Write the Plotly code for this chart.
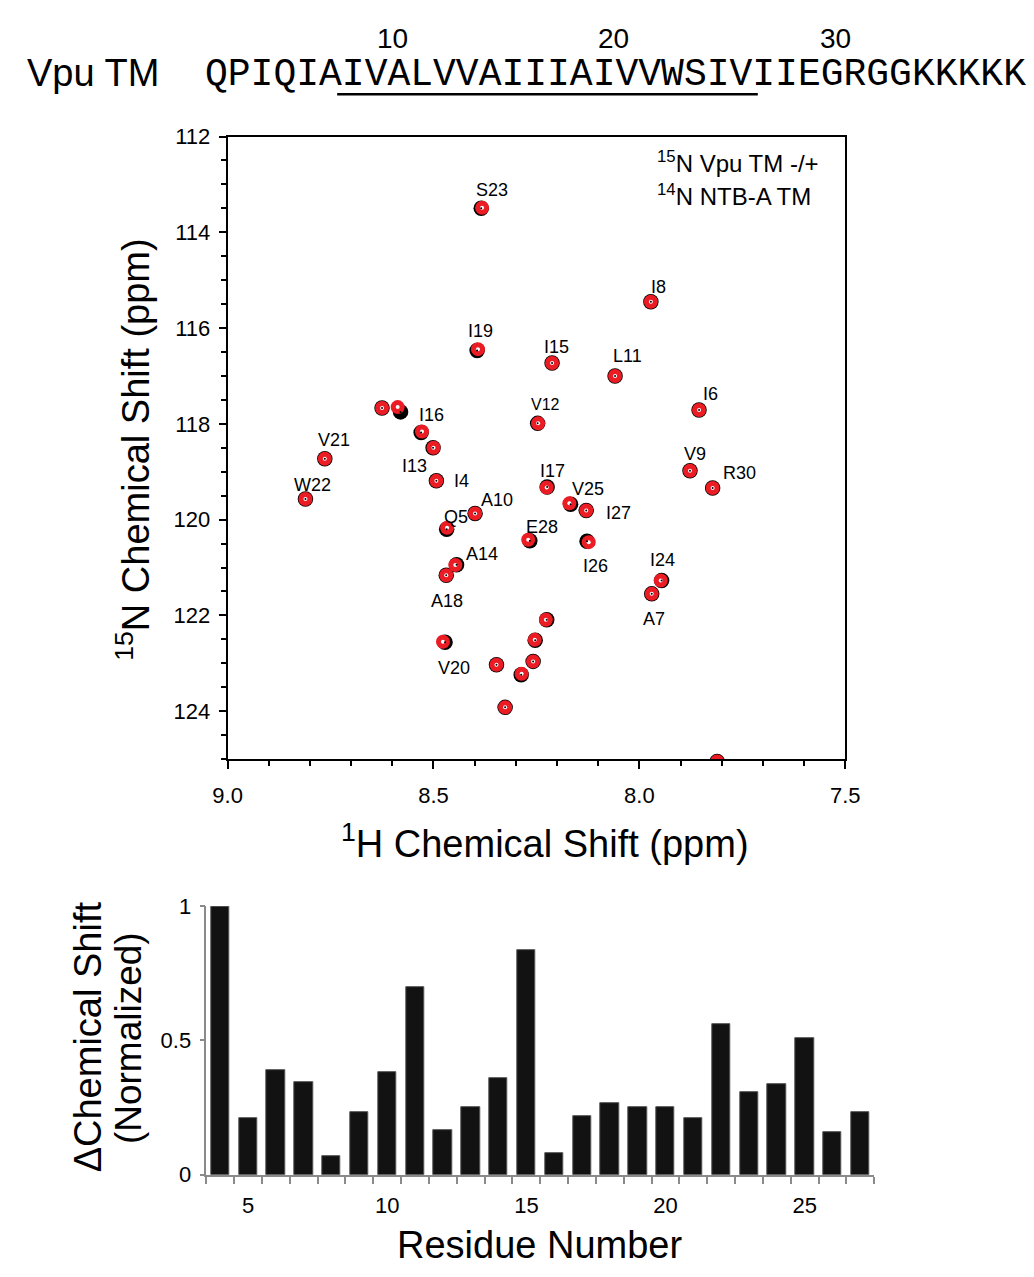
import plotly.graph_objects as go

# ---------------- data ----------------
SEQ_NAME = "Vpu TM"
SEQUENCE = "QPIQIAIVALVVAIIIAIVVWSIVIIEGRGGKKKKK"
SEQ_FIRST_RESIDUE = 2
SEQ_NUMBERS = [10, 20, 30]
TM_FIRST, TM_LAST = 8, 26  # underlined stretch

PEAK_LABELS = ["S23", "I8", "I19", "I15", "L11", "I6", "", "", "V12", "I16",
               "I13", "V21", "V9", "I4", "I17", "R30", "W22", "V25", "I27", "A10",
               "Q5", "E28", "I26", "A14", "A18", "I24", "A7", "", "", "V20",
               "", "", "", "", ""]
# 1H / 15N shifts with NTB-A TM (red)
H_BOUND = [8.382, 7.972, 8.392, 8.212, 8.059, 7.855, 8.625, 8.587, 8.246, 8.528,
           8.500, 8.764, 7.877, 8.493, 8.225, 7.822, 8.811, 8.170, 8.129, 8.399,
           8.467, 8.270, 8.123, 8.447, 8.469, 7.948, 7.970, 8.227, 8.254, 8.477,
           8.258, 8.347, 8.286, 8.326, 7.811]
N_BOUND = [113.49, 115.45, 116.44, 116.73, 117.00, 117.71, 117.67, 117.65, 117.99, 118.16,
           118.50, 118.73, 118.98, 119.19, 119.33, 119.34, 119.57, 119.66, 119.81, 119.87,
           120.17, 120.42, 120.47, 120.95, 121.16, 121.27, 121.55, 122.09, 122.51, 122.55,
           122.96, 123.03, 123.22, 123.92, 125.05]
# 1H / 15N shifts without NTB-A TM (black)
H_FREE = [8.384, 7.972, 8.394, 8.212, 8.059, 7.855, 8.625, 8.580, 8.247, 8.530,
          8.501, 8.764, 7.877, 8.493, 8.224, 7.822, 8.811, 8.167, 8.129, 8.399,
          8.468, 8.266, 8.127, 8.444, 8.469, 7.946, 7.970, 8.225, 8.253, 8.472,
          8.258, 8.347, 8.287, 8.326, 7.811]
N_FREE = [113.50, 115.45, 116.47, 116.73, 117.00, 117.71, 117.67, 117.75, 117.99, 118.18,
          118.50, 118.73, 118.98, 119.19, 119.32, 119.34, 119.57, 119.68, 119.81, 119.87,
          120.20, 120.44, 120.45, 120.94, 121.16, 121.27, 121.55, 122.09, 122.52, 122.56,
          122.96, 123.03, 123.24, 123.92, 125.05]

RESIDUES = list(range(4, 28))
DELTA_NORM = [1.00, 0.21, 0.388, 0.345, 0.068, 0.232, 0.381, 0.698, 0.168, 0.253,
              0.360, 0.835, 0.081, 0.217, 0.268, 0.253, 0.253, 0.21, 0.561, 0.309,
              0.339, 0.509, 0.160, 0.232]

NMR_X_TICKS = [9.0, 8.5, 8.0, 7.5]
NMR_Y_TICKS = [112, 114, 116, 118, 120, 122, 124]
BAR_X_TICKS = [5, 10, 15, 20, 25]
BAR_Y_TICKS = [0, 0.5, 1]

# ---------------- layout helpers (styles / placement) ----------------
W, H = 1034, 1277
FONT = "Liberation Sans, Arial, Helvetica, sans-serif"
MONO = "Courier New, Liberation Mono, monospace"
RED = "#ec1c24"


def px(x):
    return x / W


def py(y):
    return 1 - y / H


# label offsets in pixels (dx right, dy down) relative to the peak
LABEL_OFFSET = {
    "S23": (10, -18), "I19": (3, -18), "I15": (4, -16), "V12": (7, -19),
    "I16": (10, -17), "I13": (-19, 18), "V21": (9, -19), "W22": (7, -14),
    "I4": (25, 0), "Q5": (9, -11), "A10": (22, -13), "I17": (6, -17),
    "V25": (19, -14), "I27": (32, 2), "E28": (14, -13), "A14": (27, -11),
    "A18": (1, 26), "I26": (7, 24), "I24": (2, -20), "A7": (2, 25),
    "V20": (11, 26), "V9": (5, -17), "I8": (8, -15), "L11": (12, -20),
    "I6": (11, -16), "R30": (27, -15),
}

fig = go.Figure()

# black (free) peaks underneath
fig.add_trace(go.Scatter(x=H_FREE, y=N_FREE, mode="markers", xaxis="x", yaxis="y",
                         marker=dict(size=15.5, color="black"), hoverinfo="skip",
                         showlegend=False, cliponaxis=True))
# red (bound) peaks
fig.add_trace(go.Scatter(x=H_BOUND, y=N_BOUND, mode="markers", xaxis="x", yaxis="y",
                         marker=dict(size=14, color=RED), hoverinfo="skip",
                         showlegend=False, cliponaxis=True))
fig.add_trace(go.Scatter(x=H_BOUND, y=N_BOUND, mode="markers", xaxis="x", yaxis="y",
                         marker=dict(size=4, color="white"), hoverinfo="skip",
                         showlegend=False, cliponaxis=True))
fig.add_trace(go.Scatter(x=H_FREE, y=N_FREE, mode="markers", xaxis="x", yaxis="y",
                         marker=dict(size=2, color="black"), hoverinfo="skip",
                         showlegend=False, cliponaxis=True))

# bar chart
fig.add_trace(go.Bar(x=RESIDUES, y=DELTA_NORM, xaxis="x2", yaxis="y2", width=0.66,
                     marker=dict(color="#121212", line=dict(color="#555", width=1)),
                     hoverinfo="skip", showlegend=False))

annotations = []

# peak labels
for lab, hx, ny in zip(PEAK_LABELS, H_BOUND, N_BOUND):
    if not lab:
        continue
    dx, dy = LABEL_OFFSET[lab]
    annotations.append(dict(x=hx, y=ny, xref="x", yref="y", text=lab, showarrow=False,
                            xshift=dx, yshift=-dy,
                            font=dict(family=FONT, size=16 if lab == "V12" else 18, color="black")))

# sequence header
SEQ_LEFT = 195
SEQ_SIZE = 38
CHAR_W = SEQ_SIZE * 0.6
annotations.append(dict(x=px(10), y=py(62), xref="paper", yref="paper", text=SEQ_NAME,
                        showarrow=False, xanchor="left", yanchor="middle",
                        font=dict(family=FONT, size=38, color="black")))
annotations.append(dict(x=px(SEQ_LEFT), y=py(64), xref="paper", yref="paper", text=SEQUENCE,
                        showarrow=False, xanchor="left", yanchor="middle", borderpad=0,
                        font=dict(family=MONO, size=SEQ_SIZE, color="black")))
for n in SEQ_NUMBERS:
    cx = SEQ_LEFT + (n - SEQ_FIRST_RESIDUE + 0.5) * CHAR_W
    annotations.append(dict(x=px(cx), y=py(27), xref="paper", yref="paper", text=str(n),
                            showarrow=False, xanchor="center", yanchor="middle",
                            font=dict(family=FONT, size=28, color="black")))
ul_x0 = SEQ_LEFT + (TM_FIRST - SEQ_FIRST_RESIDUE) * CHAR_W
ul_x1 = SEQ_LEFT + (TM_LAST - SEQ_FIRST_RESIDUE + 1) * CHAR_W
shapes = [dict(type="line", xref="paper", yref="paper", x0=px(ul_x0), x1=px(ul_x1),
               y0=py(84), y1=py(84), line=dict(color="black", width=2.5))]

# legend text
annotations.append(dict(x=px(659), y=py(153), xref="paper", yref="paper",
                        text="<sup>15</sup>N Vpu TM -/+", showarrow=False, xanchor="left",
                        yanchor="middle", font=dict(family=FONT, size=24, color="black")))
annotations.append(dict(x=px(659), y=py(187), xref="paper", yref="paper",
                        text="<sup>14</sup>N NTB-A TM", showarrow=False, xanchor="left",
                        yanchor="middle", font=dict(family=FONT, size=24, color="black")))

# axis titles
annotations.append(dict(x=px(122), y=py(446), xref="paper", yref="paper",
                        text="<sup>15</sup>N Chemical Shift (ppm)", showarrow=False,
                        textangle=-90, xanchor="center", yanchor="middle",
                        font=dict(family=FONT, size=38, color="black")))
annotations.append(dict(x=px(546), y=py(846), xref="paper", yref="paper",
                        text="<sup>1</sup>H Chemical Shift (ppm)", showarrow=False,
                        xanchor="center", yanchor="middle",
                        font=dict(family=FONT, size=38, color="black")))
annotations.append(dict(x=px(75), y=py(1045), xref="paper", yref="paper",
                        text="ΔChemical Shift", showarrow=False, textangle=-90,
                        xanchor="center", yanchor="middle",
                        font=dict(family=FONT, size=38, color="black")))
annotations.append(dict(x=px(117), y=py(1047), xref="paper", yref="paper",
                        text="(Normalized)", showarrow=False, textangle=-90,
                        xanchor="center", yanchor="middle",
                        font=dict(family=FONT, size=37, color="black")))
annotations.append(dict(x=px(540), y=py(1258), xref="paper", yref="paper",
                        text="Residue Number", showarrow=False,
                        xanchor="center", yanchor="middle",
                        font=dict(family=FONT, size=38, color="black")))

fig.update_layout(
    width=W, height=H,
    margin=dict(l=0, r=0, t=0, b=0),
    paper_bgcolor="white", plot_bgcolor="white",
    font=dict(family=FONT, color="black"),
    showlegend=False,
    bargap=0,
    annotations=annotations,
    shapes=shapes,
    xaxis=dict(domain=[px(219), px(855)], range=[9.0, 7.5], anchor="y",
               tickvals=NMR_X_TICKS, ticktext=[f"{v:.1f}" for v in NMR_X_TICKS],
               ticks="outside", ticklen=8, tickwidth=2, tickcolor="black",
               minor=dict(dtick=0.1, tick0=7.5, ticks="outside", ticklen=5, tickwidth=1.5,
                          tickcolor="black", showgrid=False),
               showline=True, linecolor="black", linewidth=2, mirror=True,
               showgrid=False, zeroline=False, ticklabelstandoff=8,
               tickfont=dict(family=FONT, size=22, color="black")),
    yaxis=dict(domain=[py(762), py(127)], range=[125, 112], anchor="x",
               tickvals=NMR_Y_TICKS, ticks="outside", ticklen=7, tickwidth=2, tickcolor="black",
               minor=dict(dtick=0.5, tick0=112, ticks="outside", ticklen=5, tickwidth=1.5,
                          tickcolor="black", showgrid=False),
               showline=True, linecolor="black", linewidth=2, mirror=True,
               showgrid=False, zeroline=False, ticklabelstandoff=4,
               tickfont=dict(family=FONT, size=22, color="black")),
    xaxis2=dict(domain=[px(197), px(885)], range=[3.5, 27.5], anchor="y2",
                tickvals=BAR_X_TICKS, ticks="",
                minor=dict(tick0=3.5, dtick=1, ticks="outside", ticklen=7, tickwidth=1.5,
                           tickcolor="#8a8a8a", showgrid=False),
                showline=True, linecolor="#8a8a8a", linewidth=1.5,
                showgrid=False, zeroline=False, ticklabelstandoff=10,
                tickfont=dict(family=FONT, size=22, color="black")),
    yaxis2=dict(domain=[py(1186), py(912)], range=[0, 1], anchor="x2",
                tickvals=BAR_Y_TICKS, ticktext=["0", "0.5", "1"],
                ticks="outside", ticklen=5, tickwidth=1.5, tickcolor="#8a8a8a",
                showline=True, linecolor="#8a8a8a", linewidth=1.5,
                showgrid=False, zeroline=False, ticklabelstandoff=4,
                tickfont=dict(family=FONT, size=22, color="black")),
)

fig.write_html("out.html")
